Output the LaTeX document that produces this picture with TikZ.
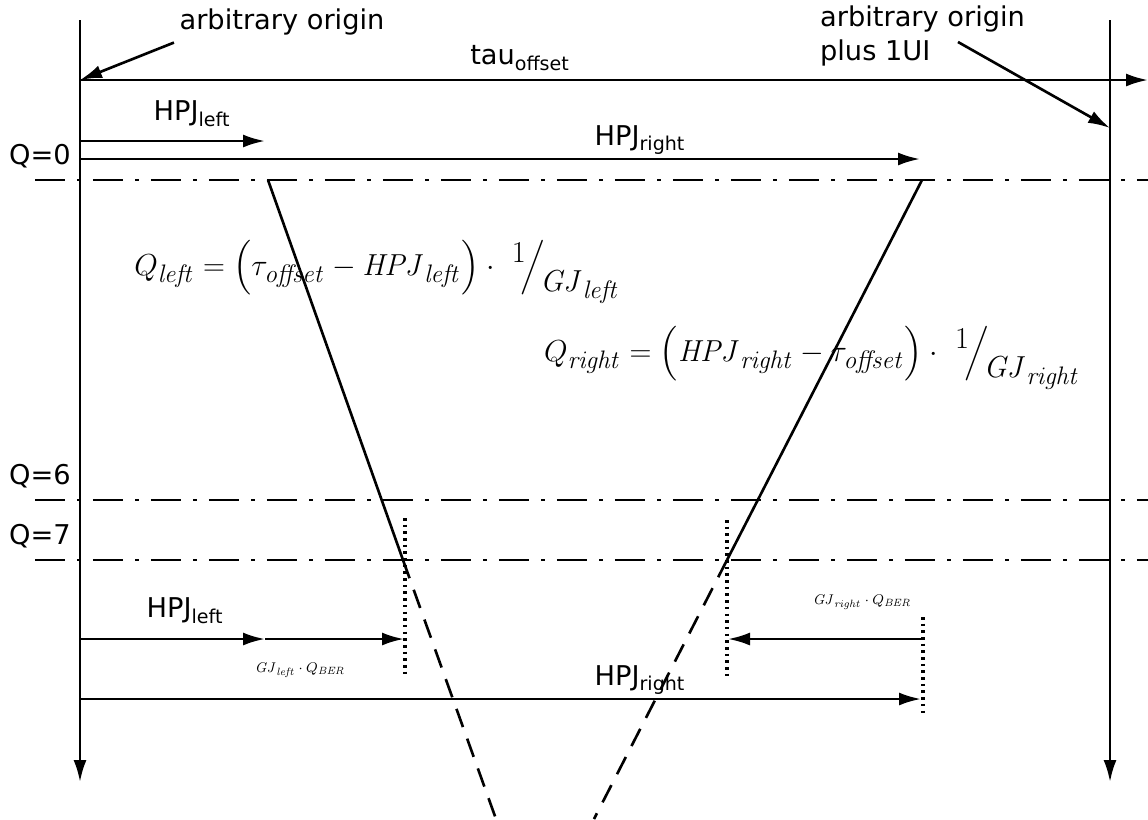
\documentclass[tikz,border=0pt]{standalone}
\usepackage{amsmath}
\usepackage[no-math]{fontspec}
\setmainfont{DejaVu Sans}
\usetikzlibrary{arrows.meta}

\newcommand{\slfrac}[2]{\raisebox{0.7ex}{$#1$}\!\Big/\!\raisebox{-0.9ex}{$#2$}}

\tikzset{
	axis/.style={line width=1.5pt},
	arr/.style={line width=1.5pt, -{Latex[length=4.4mm,width=2.6mm]}},
	qlevel/.style={line width=1.5pt, dash pattern=on 17pt off 7pt on 2pt off 7pt},
	slope/.style={line width=1.5pt},
	slopex/.style={line width=1.5pt, dash pattern=on 11pt off 7pt},
	marker/.style={line width=2pt, dash pattern=on 1.5pt off 2.3pt},
	lbl/.style={font=\fontsize{15.5}{19}\selectfont, inner sep=1pt},
	eqn/.style={font=\fontsize{19}{23}\selectfont, inner sep=0pt},
	smalleq/.style={font=\footnotesize, inner sep=1pt}
}

\begin{document}
\begin{tikzpicture}[x=0.2mm, y=-0.2mm]
	\useasboundingbox (0,0) rectangle (1148,819);
	% the two time axes and the offset
	\coordinate (originTop) at (80,20);
	\coordinate (origin) at (80,80);
	\coordinate (originBot) at (80,782);
	\coordinate (uiTop) at (1110,20);
	\coordinate (uiMark) at (1110,128);
	\coordinate (uiBot) at (1110,782);
	\coordinate (tauEnd) at (1148,80);
	\draw[arr] (originTop) -- (originBot);
	\draw[arr] (uiTop) -- (uiBot);
	\draw[arr] (origin) -- (tauEnd);
	\node[lbl] (tau) at (520,58) {tau\textsubscript{offset}};
	\node[lbl] (lblOrigin) at (282,22) {arbitrary origin};
	\draw[arr] ([xshift=-2pt,yshift=-3pt]lblOrigin.south west) -- (origin);
	\node[lbl, align=left, anchor=west] (lblUI) at (818,36) {arbitrary origin\\plus 1UI};
	\coordinate (uiTail) at (958,42);
	\draw[arr] (uiTail) -- (uiMark);
	% Q levels
	\foreach \q/\y in {0/180,6/500,7/560} {
		\coordinate (lvl\q W) at (35,\y);
		\coordinate (lvl\q E) at (1148,\y);
		\draw[qlevel] (lvl\q W) -- (lvl\q E);
		\node[lbl] (q\q) at (40,\y-24) {Q=\q};
	}
	% jitter slopes, dashed beyond Q=7
	\coordinate (L0) at (268,180);
	\coordinate (L7) at (403,560);
	\coordinate (Lend) at (496,819);
	\coordinate (R0) at (922,180);
	\coordinate (R7) at (727,560);
	\coordinate (Rend) at (594,819);
	\draw[slope] (L0) -- (L7);
	\draw[slopex] (L7) -- (Lend);
	\draw[slope] (R0) -- (R7);
	\draw[slopex] (R7) -- (Rend);
	% top arrows
	\coordinate (hlTopA) at (80,141);
	\coordinate (hlTopB) at (265,141);
	\coordinate (hrTopA) at (80,159);
	\coordinate (hrTopB) at (920,159);
	\draw[arr] (hlTopA) -- (hlTopB);
	\draw[arr] (hrTopA) -- (hrTopB);
	\node[lbl] (hlTop) at (192,114) {HPJ\textsubscript{left}};
	\node[lbl] (hrTop) at (640,140) {HPJ\textsubscript{right}};
	% formulas
	\node[eqn] (qLeft) at (377,272)
		{$Q_{\mathit{left}} = \Bigl(\tau_{\mathit{offset}} - \mathit{HPJ}_{\mathit{left}}\Bigr)\cdot\ \slfrac{1}{\mathit{GJ}_{\mathit{left}}}$};
	\node[eqn] (qRight) at (812,358)
		{$Q_{\mathit{right}} = \Bigl(\mathit{HPJ}_{\mathit{right}} - \tau_{\mathit{offset}}\Bigr)\cdot\ \slfrac{1}{\mathit{GJ}_{\mathit{right}}}$};
	% markers at Q=7
	\coordinate (mLa) at (405,518);
	\coordinate (mLb) at (405,678);
	\coordinate (mRa) at (727,520);
	\coordinate (mRb) at (727,680);
	\coordinate (mHa) at (923,617);
	\coordinate (mHb) at (923,715);
	\draw[marker] (mLa) -- (mLb);
	\draw[marker] (mRa) -- (mRb);
	\draw[marker] (mHa) -- (mHb);
	% bottom arrows
	\coordinate (hlBotA) at (80,639);
	\coordinate (hlBotB) at (265,639);
	\coordinate (hlBotC) at (404,639);
	\coordinate (grA) at (923,639);
	\coordinate (grB) at (728,639);
	\coordinate (hrBotA) at (80,699);
	\coordinate (hrBotB) at (921,699);
	\draw[arr] (hlBotA) -- (hlBotB);
	\draw[arr] (hlBotB) -- (hlBotC);
	\draw[arr] (grA) -- (grB);
	\draw[arr] (hrBotA) -- (hrBotB);
	\node[lbl] (hlBot) at (185,611) {HPJ\textsubscript{left}};
	\node[smalleq] (gjl) at (300,670) {$\mathit{GJ}_{\mathit{left}}\cdot Q_{\mathit{BER}}$};
	\node[smalleq] (gjr) at (862,602) {$\mathit{GJ}_{\mathit{right}}\cdot Q_{\mathit{BER}}$};
	\node[lbl] (hrBot) at (640,680) {HPJ\textsubscript{right}};
\end{tikzpicture}
\end{document}
